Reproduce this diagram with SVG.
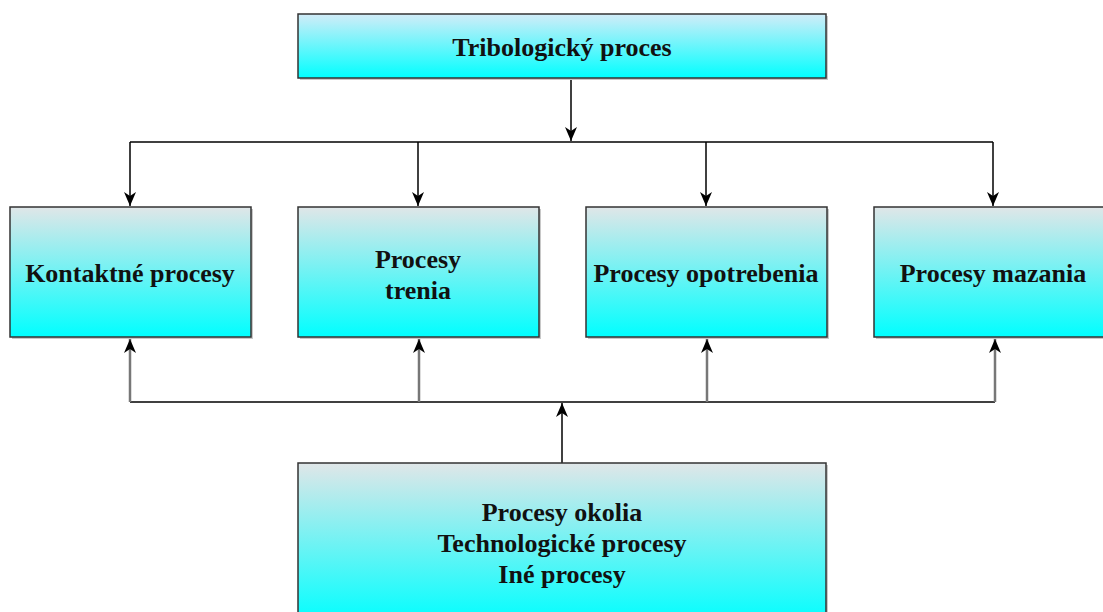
<svg xmlns="http://www.w3.org/2000/svg" width="1103" height="612" viewBox="0 0 1103 612">
<defs>
<linearGradient id="g" x1="0" y1="0" x2="0" y2="1">
<stop offset="0" stop-color="#e0e6e8"/>
<stop offset="1" stop-color="#00ffff"/>
</linearGradient>
<linearGradient id="gt" x1="0" y1="0" x2="0" y2="1">
<stop offset="0" stop-color="#d2ecf8"/>
<stop offset="1" stop-color="#00ffff"/>
</linearGradient>
<marker id="ah" viewBox="0 0 14 12" refX="14" refY="6" markerWidth="14" markerHeight="12" orient="auto" markerUnits="userSpaceOnUse">
<path d="M0,0 L14,6 L0,12 L4,6 Z" fill="#000"/>
</marker>
</defs>
<style>
.box{stroke:#333;stroke-width:1.5;}
.sh{fill:#c8c8c8;}
.t{font-family:"Liberation Serif","Times New Roman",serif;font-weight:bold;font-size:26px;fill:#111;text-anchor:middle;}
.c{fill:none;stroke:#000;stroke-width:1.5;}
.u{fill:none;stroke:#777;stroke-width:2.5;}
</style>
<rect width="1103" height="612" fill="#fff"/>
<g id="connectors">
<line class="c" x1="571" y1="78" x2="571" y2="141" marker-end="url(#ah)"/>
<polyline class="c" points="130,142 993,142"/>
<line class="c" x1="130" y1="142" x2="130" y2="206" marker-end="url(#ah)"/>
<line class="c" x1="418" y1="142" x2="418" y2="206" marker-end="url(#ah)"/>
<line class="c" x1="706" y1="142" x2="706" y2="206" marker-end="url(#ah)"/>
<line class="c" x1="993" y1="142" x2="993" y2="206" marker-end="url(#ah)"/>
<line class="c" x1="562" y1="463" x2="562" y2="403" marker-end="url(#ah)"/>
<line class="c" x1="130" y1="402" x2="995" y2="402"/>
<line class="u" x1="130" y1="402" x2="130" y2="339" marker-end="url(#ah)"/>
<line class="u" x1="419" y1="402" x2="419" y2="339" marker-end="url(#ah)"/>
<line class="u" x1="707" y1="402" x2="707" y2="339" marker-end="url(#ah)"/>
<line class="u" x1="995" y1="402" x2="995" y2="339" marker-end="url(#ah)"/>
</g>
<g id="n-top">
<rect class="sh" x="300" y="16" width="528" height="64"/>
<rect class="box" x="298" y="14" width="528" height="64" fill="url(#gt)"/>
<text class="t" x="562" y="56">Tribologický proces</text>
</g>
<g id="n-kontakt">
<rect class="sh" x="12" y="209" width="241" height="130"/>
<rect class="box" x="10" y="207" width="241" height="130" fill="url(#g)"/>
<text class="t" x="130" y="282">Kontaktné procesy</text>
</g>
<g id="n-trenie">
<rect class="sh" x="300" y="209" width="241" height="130"/>
<rect class="box" x="298" y="207" width="241" height="130" fill="url(#g)"/>
<text class="t" x="418" y="268">Procesy</text>
<text class="t" x="418" y="299">trenia</text>
</g>
<g id="n-opotreb">
<rect class="sh" x="588" y="209" width="241" height="130"/>
<rect class="box" x="586" y="207" width="241" height="130" fill="url(#g)"/>
<text class="t" x="706" y="282">Procesy opotrebenia</text>
</g>
<g id="n-mazanie">
<rect class="sh" x="876" y="209" width="241" height="130"/>
<rect class="box" x="874" y="207" width="241" height="130" fill="url(#g)"/>
<text class="t" x="993" y="282">Procesy mazania</text>
</g>
<g id="n-okolie">
<rect class="sh" x="300" y="465" width="528" height="160"/>
<rect class="box" x="298" y="463" width="528" height="160" fill="url(#g)"/>
<text class="t" x="562" y="521">Procesy okolia</text>
<text class="t" x="562" y="552">Technologické procesy</text>
<text class="t" x="562" y="583">Iné procesy</text>
</g>
</svg>
